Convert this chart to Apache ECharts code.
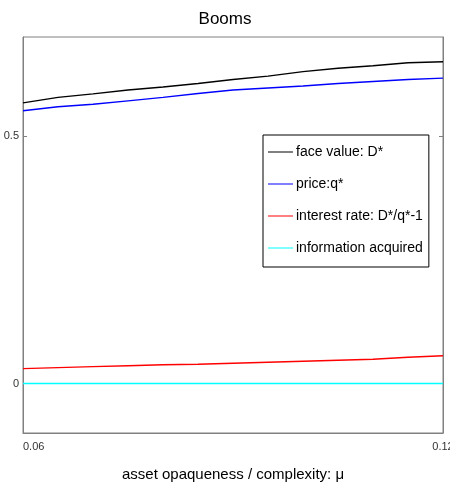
<!DOCTYPE html>
<html>
<head>
<meta charset="utf-8">
<script src="https://cdn.jsdelivr.net/npm/echarts@6/dist/echarts.min.js"></script>
<style>
  html, body { margin: 0; padding: 0; background: #fff; }
  #main { width: 450px; height: 489px; }
</style>
</head>
<body>
<div id="main"></div>
<script>
// x grid: asset opaqueness mu
var mu = [0.06, 0.065, 0.07, 0.075, 0.08, 0.085, 0.09, 0.095, 0.10, 0.105, 0.11, 0.115, 0.12];
var faceValue = [0.567, 0.578, 0.585, 0.593, 0.599, 0.606, 0.614, 0.621, 0.630, 0.637, 0.642, 0.648, 0.650];
var price = [0.551, 0.559, 0.564, 0.571, 0.578, 0.586, 0.593, 0.597, 0.601, 0.606, 0.610, 0.614, 0.617];
var interestRate = [0.030, 0.032, 0.034, 0.036, 0.038, 0.039, 0.041, 0.043, 0.045, 0.047, 0.049, 0.053, 0.056];
var infoAcquired = [0, 0, 0, 0, 0, 0, 0, 0, 0, 0, 0, 0, 0];
var xTicks = [0.06, 0.12];
var yTicks = [0, 0.5];
var names = ['face value: D*', 'price:q*', 'interest rate: D*/q*-1', 'information acquired'];
var colors = ['#000000', '#0000ff', '#ff0000', '#00ffff'];

var font = '"Liberation Sans", Arial, sans-serif';

function pairs(ys) {
    return mu.map(function (x, i) { return [x, ys[i]]; });
}

var chart = echarts.init(document.getElementById('main'));
var option = {
    backgroundColor: '#ffffff',
    animation: false,
    title: {
        text: 'Booms',
        left: 'center',
        top: 6,
        textStyle: { fontFamily: font, fontSize: 17, fontWeight: 'normal', color: '#000' }
    },
    grid: {
        left: 23, right: 7, top: 37, bottom: 56,
        outerBoundsMode: 'none',
        containLabel: false,
        show: true, borderColor: '#808080', borderWidth: 1
    },
    legend: {
        orient: 'vertical',
        left: 263, top: 135,
        backgroundColor: '#fff',
        borderColor: '#000', borderWidth: 1,
        padding: [7, 6, 9, 5],
        itemGap: 12,
        itemWidth: 25, itemHeight: 1,
        icon: 'rect',
        textStyle: { fontFamily: font, fontSize: 14, color: '#000', lineHeight: 20, padding: [0, 0, 0, -2] },
        data: names
    },
    xAxis: {
        type: 'value',
        min: 0.06, max: 0.12,
        name: 'asset opaqueness / complexity: \u03bc',
        nameLocation: 'middle',
        nameGap: 34,
        nameTextStyle: { fontFamily: font, fontSize: 15, color: '#000' },
        splitLine: { show: false },
        axisLine: { onZero: false, lineStyle: { color: '#808080' } },
        axisTick: { show: false },
        axisLabel: {
            customValues: xTicks,
            fontFamily: font, fontSize: 11, color: '#333',
            margin: 8,
            hideOverlap: false,
            formatter: function (v) { return v.toFixed(2); },
            alignMinLabel: 'left', alignMaxLabel: 'center'
        }
    },
    yAxis: [{
        type: 'value',
        min: -0.1, max: 0.7,
        splitLine: { show: false },
        axisLine: { show: true, onZero: false, lineStyle: { color: '#808080' } },
        axisTick: { show: true, inside: true, length: 4, customValues: yTicks, lineStyle: { color: '#808080' } },
        axisLabel: {
            customValues: yTicks,
            fontFamily: font, fontSize: 11, color: '#333', margin: 4,
            formatter: function (v) { return String(v); }
        }
    }, {
        type: 'value',
        position: 'right',
        min: -0.1, max: 0.7,
        splitLine: { show: false },
        axisLine: { show: true, onZero: false, lineStyle: { color: '#808080' } },
        axisTick: { show: true, inside: true, length: 4, customValues: yTicks, lineStyle: { color: '#808080' } },
        axisLabel: { show: false }
    }],
    series: [faceValue, price, interestRate, infoAcquired].map(function (ys, i) {
        return {
            name: names[i],
            type: 'line',
            data: pairs(ys),
            symbol: 'none',
            color: colors[i],
            lineStyle: { width: 1.4, color: colors[i], opacity: 1 },
            z: 10
        };
    })
};
chart.setOption(option);
</script>
</body>
</html>
